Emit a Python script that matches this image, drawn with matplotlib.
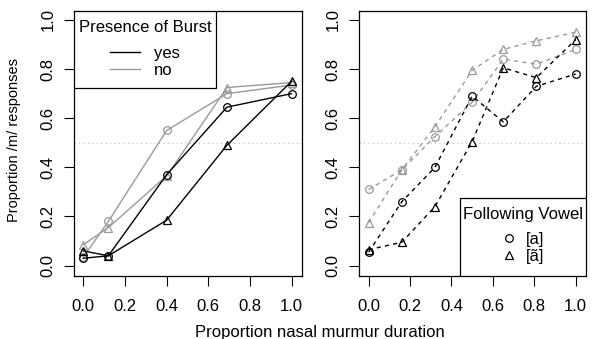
import matplotlib

matplotlib.use("Agg")
import matplotlib.pyplot as plt
from matplotlib.lines import Line2D
from matplotlib.patches import Rectangle

plt.rcParams["font.family"] = ["Liberation Sans", "DejaVu Sans"]
plt.rcParams["font.size"] = 12

GRAY = "#9a9a9a"

# left panel: presence of burst (yes = black, no = gray), circle = [a], triangle = [ã]
burst_x = [0.0, 0.12, 0.4, 0.69, 1.0]
burst_yes_a = [0.03, 0.04, 0.37, 0.645, 0.70]
burst_yes_nasal = [0.06, 0.04, 0.185, 0.49, 0.75]
burst_no_a = [0.035, 0.18, 0.55, 0.70, 0.735]
burst_no_nasal = [0.085, 0.155, 0.365, 0.725, 0.745]

# right panel: following vowel
vowel_x = [0.0, 0.16, 0.32, 0.5, 0.65, 0.81, 1.0]
vowel_black_a = [0.055, 0.26, 0.40, 0.69, 0.585, 0.73, 0.78]
vowel_black_nasal = [0.065, 0.095, 0.24, 0.505, 0.805, 0.765, 0.92]
vowel_gray_a = [0.31, 0.39, 0.525, 0.665, 0.84, 0.82, 0.88]
vowel_gray_nasal = [0.175, 0.39, 0.565, 0.795, 0.88, 0.915, 0.95]

ticks = [0.0, 0.2, 0.4, 0.6, 0.8, 1.0]
tick_labels = ["0.0", "0.2", "0.4", "0.6", "0.8", "1.0"]

fig = plt.figure(figsize=(5.92, 3.39), dpi=100)
ax1 = fig.add_axes([0.125, 0.186, 0.385, 0.782])
ax2 = fig.add_axes([0.607, 0.186, 0.383, 0.782])

mk = dict(markersize=5.5, markerfacecolor="none", markeredgewidth=0.9)


def style(ax):
    ax.set_xlim(-0.045, 1.05)
    ax.set_ylim(-0.042, 1.037)
    ax.set_xticks(ticks)
    ax.set_xticklabels(tick_labels)
    ax.set_yticks(ticks)
    ax.set_yticklabels(tick_labels, rotation=90, va="center")
    ax.tick_params(direction="out", length=7.5, width=0.8, labelsize=12)
    ax.tick_params(axis="x", pad=9)
    ax.tick_params(axis="y", pad=6)
    for s in ax.spines.values():
        s.set_linewidth(0.9)
    ax.axhline(0.5, color="#bbbbbb", linestyle=(0, (1, 3)), linewidth=0.8, zorder=0)


def boxed_legend(ax, handles, labels, title, rect, center, handlelength, handletextpad):
    # R-style legend: square frame with its own size, content centred inside
    ax.add_patch(Rectangle(rect[:2], rect[2], rect[3], transform=ax.transAxes,
                           facecolor="white", edgecolor="black", lw=0.9, zorder=4.5))
    leg = ax.legend(handles, labels, title=title, loc="center", bbox_to_anchor=center,
                    frameon=False, borderpad=0, borderaxespad=0, fontsize=12,
                    title_fontsize=12, labelspacing=0.12, handlelength=handlelength,
                    handletextpad=handletextpad)
    leg._legend_box.align = "center"
    leg._legend_box.sep = 7.3
    leg.set_zorder(5)
    return leg


style(ax1)
style(ax2)

ax1.plot(burst_x, burst_no_a, color=GRAY, lw=1, marker="o", markeredgecolor=GRAY, **mk)
ax1.plot(burst_x, burst_no_nasal, color=GRAY, lw=1, marker="^", markeredgecolor=GRAY, **mk)
ax1.plot(burst_x, burst_yes_a, color="black", lw=1, marker="o", markeredgecolor="black", **mk)
ax1.plot(burst_x, burst_yes_nasal, color="black", lw=1, marker="^", markeredgecolor="black", **mk)

dash = (0, (3, 3))
ax2.plot(vowel_x, vowel_gray_a, color=GRAY, lw=1, ls=dash, marker="o", markeredgecolor=GRAY, **mk)
ax2.plot(vowel_x, vowel_gray_nasal, color=GRAY, lw=1, ls=dash, marker="^", markeredgecolor=GRAY, **mk)
ax2.plot(vowel_x, vowel_black_a, color="black", lw=1, ls=dash, marker="o", markeredgecolor="black", **mk)
ax2.plot(vowel_x, vowel_black_nasal, color="black", lw=1, ls=dash, marker="^", markeredgecolor="black", **mk)

h1 = [Line2D([], [], color="black", lw=1), Line2D([], [], color=GRAY, lw=1)]
boxed_legend(ax1, h1, ["yes", "no"], "Presence of Burst",
             rect=(0.0, 0.709, 0.623, 0.291), center=(0.311, 0.856),
             handlelength=1.8, handletextpad=0.8)

h2 = [Line2D([], [], color="black", ls="none", marker="o", markeredgecolor="black", **mk),
      Line2D([], [], color="black", ls="none", marker="^", markeredgecolor="black", **mk)]
boxed_legend(ax2, h2, ["[a]", "[ã]"], "Following Vowel",
             rect=(0.443, 0.0, 0.557, 0.295), center=(0.721, 0.152),
             handlelength=1.0, handletextpad=0.5)

fig.text(0.024, 0.586, "Proportion /m/ responses", rotation=90, ha="center", va="center", fontsize=10.5)
fig.text(0.5405, 0.006, "Proportion nasal murmur duration", ha="center", va="baseline", fontsize=12)

fig.savefig("out.png", dpi=100)
